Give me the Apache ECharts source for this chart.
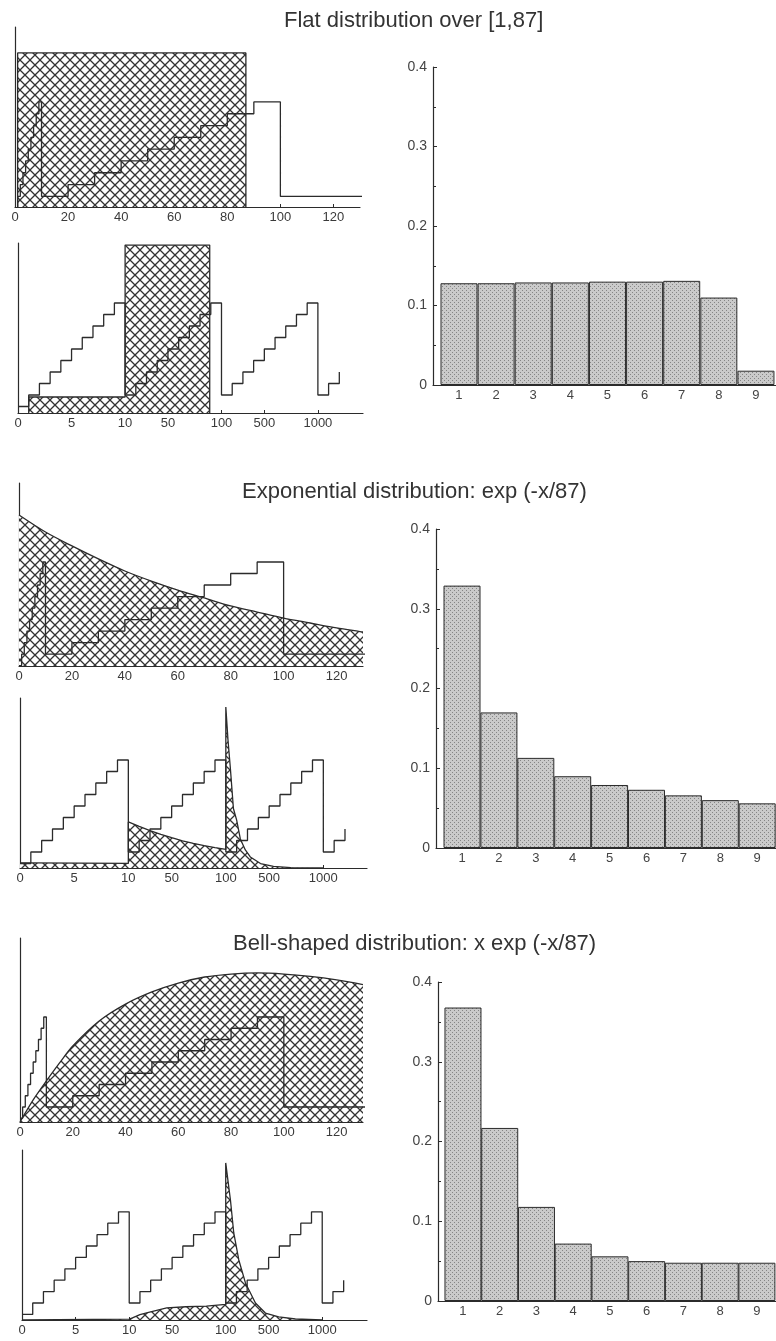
<!DOCTYPE html>
<html>
<head>
<meta charset="utf-8">
<script src="https://cdn.jsdelivr.net/npm/echarts@6/dist/echarts.min.js"></script>
<style>
  html, body { margin: 0; background: #fff; }
  #chart { width: 776px; height: 1341px; }
</style>
</head>
<body>
<div id="chart"></div>
<script>
// --- text and ticks
const titles = [
    'Flat distribution over [1,87]',
    'Exponential distribution: exp (-x/87)',
    'Bell-shaped distribution: x exp (-x/87)'
];
const linearTicks = [0, 20, 40, 60, 80, 100, 120];
const decadeTicks = [0, 5, 10, 50, 100, 500, 1000];
const digits = [1, 2, 3, 4, 5, 6, 7, 8, 9];

// first digit of x, drawn as a staircase in every left panel
const stairX = [0, 1, 2, 3, 4, 5, 6, 7, 8, 9, 10, 20, 30, 40, 50, 60, 70, 80, 90,
    100, 200, 300, 400, 500, 600, 700, 800, 900, 1000, 2000, 3000];
const stairDigit = [0, 1, 2, 3, 4, 5, 6, 7, 8, 9, 1, 2, 3, 4, 5, 6, 7, 8, 9,
    1, 2, 3, 4, 5, 6, 7, 8, 9, 1, 2, 3];

// densities (height in % of the panel)
const flatX = [1, 1, 87, 87];
const flatY = [0, 85.6, 85.6, 0];
const flatDecX = [1, 1, 10, 10, 89, 89];
const flatDecY = [0, 9.4, 9.4, 98.8, 98.8, 0];

const expX = [0, 10, 20, 30, 40, 50, 60, 70, 80, 90, 100, 110, 120, 130];
const expY = [82.5, 73.2, 65.6, 58.5, 51.9, 46.4, 41.5, 37.2, 32.8, 29.5, 26.2, 23.5, 20.8, 18.6];
const expDecX = [0, 1, 10, 10, 20, 30, 40, 50, 60, 70, 80, 90, 100,
    100, 120, 141, 170, 200, 234, 280, 326, 420, 540, 700, 1000];
const expDecY = [3.0, 3.0, 2.7, 27.1, 24.5, 22, 19.8, 17.8, 16, 14.5, 13.2, 12, 11,
    94.7, 75.3, 59.4, 35, 28.2, 17.1, 10.6, 6.5, 2.6, 0.9, 0.2, 0];

const bellX = [0, 5, 10, 15, 20, 30, 40, 50, 60, 70, 80, 90, 100, 110, 120, 130];
const bellY = [0, 12, 22.3, 32.1, 41.3, 54.9, 64.1, 70.7, 75.5, 78.8, 80.4, 81, 80.4, 79.1, 77.2, 74.7];
const bellDecX = [0, 10, 13, 20, 29, 45, 63, 82, 100,
    100, 120, 144, 175, 222, 284, 377, 470, 594, 750, 1000];
const bellDecY = [0, 0.5, 1.2, 3.2, 4.7, 7.1, 7.8, 8.2, 9.2,
    92.4, 82.4, 70.6, 51.2, 35.3, 21.8, 10, 4.1, 1.8, 0.6, 0];

// share of each first digit
const flatShares = [0.128, 0.128, 0.129, 0.129, 0.130, 0.130, 0.131, 0.110, 0.018];
const expShares = [0.329, 0.170, 0.113, 0.090, 0.079, 0.073, 0.066, 0.060, 0.056];
const bellShares = [0.368, 0.217, 0.118, 0.072, 0.056, 0.050, 0.048, 0.048, 0.048];

const ink = '#2b2b2b';
const fontFamily = '"Liberation Sans", Arial, sans-serif';

/**
 * Axis where every decade gets the same width, linear inside the decade.
 * [0,1) sits left of 1 with the same spacing as [1,10).
 */
function toDecade(x) {
    if (x < 1) return (x - 1) / 9;
    const k = Math.floor(Math.log10(x) + 1e-9);
    return k + (x / Math.pow(10, k) - 1) / 9;
}
function fromDecade(u) {
    if (u < 0) return 1 + 9 * u;
    const k = Math.floor(u + 1e-9);
    return Math.pow(10, k) * (1 + 9 * (u - k));
}

function makeHatch() {
    const c = document.createElement('canvas');
    c.width = c.height = 10;
    const g = c.getContext('2d');
    g.fillStyle = '#fff';
    g.fillRect(0, 0, 10, 10);
    g.strokeStyle = '#333';
    g.lineWidth = 1.3;
    g.beginPath();
    g.moveTo(-1, -1); g.lineTo(11, 11);
    g.moveTo(11, -1); g.lineTo(-1, 11);
    g.stroke();
    return c;
}
function makeStipple() {
    const c = document.createElement('canvas');
    c.width = c.height = 4;
    const g = c.getContext('2d');
    g.fillStyle = '#cacaca';
    g.fillRect(0, 0, 4, 4);
    g.fillStyle = '#858585';
    g.fillRect(0, 0, 1, 1);
    g.fillRect(2, 2, 1, 1);
    return c;
}
const hatch = makeHatch();
const stipple = makeStipple();

const leftPanels = [
    { box: { left: 15, top: 27, width: 345, height: 180 }, decade: false, max: 130, digitRange: [0.1, 15.35], x: flatX, y: flatY, smooth: false },
    { box: { left: 18, top: 243, width: 345, height: 170 }, decade: true, max: 3.468, digitRange: [-0.565, 14.22], x: flatDecX, y: flatDecY, smooth: false },
    { box: { left: 19, top: 483, width: 344, height: 183 }, decade: false, max: 130, digitRange: [-0.04, 15.87], x: expX, y: expY, smooth: 0.3 },
    { box: { left: 20, top: 698, width: 347, height: 170 }, decade: true, max: 3.448, digitRange: [-0.39, 14.39], x: expDecX, y: expDecY, smooth: false },
    { box: { left: 20, top: 938, width: 343, height: 184 }, decade: false, max: 130, digitRange: [-0.333, 16.02], x: bellX, y: bellY, smooth: 0.3 },
    { box: { left: 22, top: 1150, width: 345, height: 170 }, decade: true, max: 3.464, digitRange: [-0.49, 14.42], x: bellDecX, y: bellDecY, smooth: false }
];
const barPanels = [
    { box: { left: 433, top: 67, width: 343, height: 318 }, min: 0.3, max: 9.54, shares: flatShares },
    { box: { left: 436, top: 529, width: 340, height: 319 }, min: 0.295, max: 9.51, shares: expShares },
    { box: { left: 438, top: 982, width: 338, height: 319 }, min: 0.32, max: 9.52, shares: bellShares }
];

const axisLine = { show: true, onZero: false, lineStyle: { color: ink, width: 1.2 } };
const grid = [], xAxis = [], yAxis = [], series = [];

leftPanels.forEach((p) => {
    const g = grid.length;
    grid.push(Object.assign({ containLabel: false, outerBoundsMode: 'none' }, p.box));
    const tx = p.decade ? toDecade : (x) => x;
    const ticks = (p.decade ? decadeTicks : linearTicks).map(tx);
    xAxis.push({
        type: 'value', gridIndex: g, min: tx(0), max: p.max,
        axisLine: axisLine,
        axisTick: { show: true, customValues: ticks, inside: true, length: 3, lineStyle: { color: ink } },
        axisLabel: {
            customValues: ticks, margin: 4, fontSize: 13, fontFamily: fontFamily, color: '#3a3a3a',
            formatter: p.decade ? (u) => String(Math.round(fromDecade(u))) : (v) => String(v)
        },
        splitLine: { show: false }
    });
    const yi = yAxis.length;
    yAxis.push({
        type: 'value', gridIndex: g, min: 0, max: 100,
        axisLine: axisLine, axisTick: { show: false }, axisLabel: { show: false }, splitLine: { show: false }
    });
    yAxis.push({ type: 'value', gridIndex: g, min: p.digitRange[0], max: p.digitRange[1], show: false });

    series.push({
        type: 'line', xAxisIndex: g, yAxisIndex: yi, silent: true, z: 2,
        data: p.x.map((x, i) => [tx(x), p.y[i]]),
        smooth: p.smooth, symbol: 'none',
        lineStyle: { color: ink, width: 1.3 },
        areaStyle: { color: { image: hatch, repeat: 'repeat' }, opacity: 1 }
    });
    series.push({
        type: 'line', xAxisIndex: g, yAxisIndex: yi + 1, silent: true, z: 3,
        step: 'end', symbol: 'none',
        data: stairX.map((x, i) => [tx(x), stairDigit[i]]),
        lineStyle: { color: ink, width: 1.3 }
    });
});

barPanels.forEach((p) => {
    const g = grid.length;
    grid.push(Object.assign({ containLabel: false, outerBoundsMode: 'none' }, p.box));
    xAxis.push({
        type: 'value', gridIndex: g, min: p.min, max: p.max,
        axisLine: axisLine,
        axisTick: { show: true, customValues: digits, inside: true, length: 4, lineStyle: { color: ink } },
        axisLabel: { customValues: digits, margin: 4, fontSize: 13, fontFamily: fontFamily, color: '#444' },
        splitLine: { show: false }
    });
    const yi = yAxis.length;
    yAxis.push({
        type: 'value', gridIndex: g, min: 0, max: 0.4, interval: 0.1,
        axisLine: axisLine,
        axisTick: { show: true, inside: true, length: 4, lineStyle: { color: ink } },
        minorTick: { show: true, splitNumber: 2, length: 3, lineStyle: { color: ink } },
        axisLabel: {
            margin: 6, fontSize: 14, fontFamily: fontFamily, color: '#444',
            formatter: (v) => (v === 0 ? '0' : v.toFixed(1))
        },
        splitLine: { show: false }, minorSplitLine: { show: false }
    });
    series.push({
        type: 'bar', xAxisIndex: g, yAxisIndex: yi, barWidth: 37, silent: true,
        data: digits.map((d, i) => [d, p.shares[i]]),
        itemStyle: { color: { image: stipple, repeat: 'repeat' }, borderColor: ink, borderWidth: 1 }
    });
});

const titleSpots = [[284, 21], [242, 492], [233, 944]];
const graphic = titles.map((t, i) => ({
    type: 'text', x: titleSpots[i][0], y: titleSpots[i][1],
    style: { text: t, font: '22px ' + fontFamily, fill: '#333', verticalAlign: 'middle' }
}));

const chart = echarts.init(document.getElementById('chart'));
chart.setOption({
    animation: false,
    backgroundColor: '#fff',
    graphic: graphic,
    grid: grid,
    xAxis: xAxis,
    yAxis: yAxis,
    series: series
});
</script>
</body>
</html>
